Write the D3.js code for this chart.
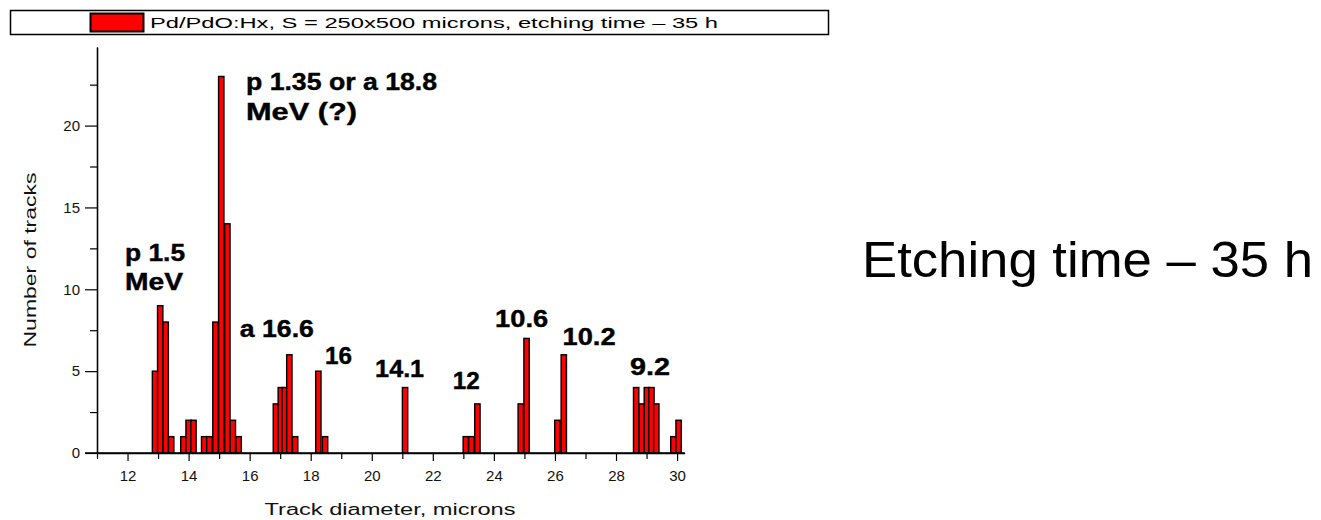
<!DOCTYPE html>
<html>
<head>
<meta charset="utf-8">
<script src="https://cdn.jsdelivr.net/npm/d3@7"></script>
<style>
  html, body { margin: 0; padding: 0; background: #fff; }
  svg { display: block; }
  text { font-family: "Liberation Sans", Arial, sans-serif; }
</style>
</head>
<body>
<svg id="chart" width="1321" height="520"></svg>
<script>
// ---- data ----
const diameters = [12.90, 13.07, 13.25, 13.43,
                   13.83, 14.00, 14.16,
                   14.51, 14.68, 14.88, 15.07, 15.27, 15.45, 15.64,
                   16.86, 17.02, 17.15, 17.30, 17.49,
                   18.25, 18.47,
                   21.09,
                   23.08, 23.26, 23.46,
                   24.88, 25.07,
                   26.08, 26.29,
                   28.66, 28.84, 29.01, 29.16, 29.32,
                   29.88, 30.05];
const counts = [5, 9, 8, 1,
                1, 2, 2,
                1, 1, 8, 23, 14, 2, 1,
                3, 4, 4, 6, 1,
                5, 1,
                4,
                1, 1, 3,
                3, 7,
                2, 6,
                4, 3, 4, 4, 3,
                1, 2];
const binWidth = 0.175;
const xTickValues = [12, 14, 16, 18, 20, 22, 24, 26, 28, 30];
const xMinorTicks = [11, 13, 15, 17, 19, 21, 23, 25, 27, 29];
const yTickValues = [0, 5, 10, 15, 20];
const yMinorTicks = [2.5, 7.5, 12.5, 17.5, 22.5];
const annText = ["p 1.5", "MeV", "p 1.35 or a 18.8", "MeV (?)", "a 16.6", "16", "14.1", "12", "10.6", "10.2", "9.2"];
const annX    = [11.92, 11.92, 15.88, 15.88, 15.68, 18.47, 20.11, 22.65, 24.04, 26.25, 28.46];
const annY    = [11.73, 9.96, 22.17, 20.34, 7.09, 5.44, 4.64, 3.91, 7.70, 6.60, 4.76];
const legendLabel = "Pd/PdO:Hx, S = 250x500 microns, etching time \u2013 35 h";
const xTitle = "Track diameter, microns";
const yTitle = "Number of tracks";
const sideNote = "Etching time \u2013 35 h";

// ---- style ----
const annWidth = {"p 1.5": 60, "MeV": 58, "p 1.35 or a 18.8": 191, "MeV (?)": 111, "a 16.6": 74,
                  "16": 27, "14.1": 49, "12": 27, "10.6": 53, "10.2": 53, "9.2": 40};

const svg = d3.select("#chart");
const x = d3.scaleLinear().domain([11, 30.25]).range([97, 97 + 19.25 * 30.53]);
const y = d3.scaleLinear().domain([0, 24.8]).range([453, 47]);

// legend
svg.append("rect").attr("x", 10.5).attr("y", 10.5).attr("width", 818).attr("height", 24)
  .attr("fill", "#fff").attr("stroke", "#000").attr("stroke-width", 1.5);
svg.append("rect").attr("x", 90.5).attr("y", 13.5).attr("width", 53).attr("height", 18)
  .attr("fill", "#ff0000").attr("stroke", "#000").attr("stroke-width", 2);
svg.append("text").attr("x", 150).attr("y", 27.5).attr("font-size", 14)
  .attr("textLength", 568).attr("lengthAdjust", "spacingAndGlyphs").text(legendLabel);

// bars
const data = diameters.map((d, i) => ({x: d, c: counts[i]}));
svg.append("g").selectAll("rect").data(data).join("rect")
  .attr("x", d => x(d.x - binWidth / 2))
  .attr("y", d => y(d.c))
  .attr("width", d => x(d.x + binWidth / 2) - x(d.x - binWidth / 2))
  .attr("height", d => y(0) - y(d.c))
  .attr("fill", "#ff0000").attr("stroke", "#000").attr("stroke-width", 1.4);

// x axis
const xAxis = svg.append("g").attr("transform", `translate(0,${y(0)})`);
xAxis.call(d3.axisBottom(x).tickValues(xTickValues).tickSize(8).tickSizeOuter(0).tickFormat(d3.format("d")));
xAxis.append("g").call(d3.axisBottom(x).tickValues(xMinorTicks).tickSize(6).tickSizeOuter(0).tickFormat(""));
xAxis.selectAll(".domain").attr("stroke", "#000").attr("stroke-width", 1.3);
xAxis.selectAll("line").attr("stroke", "#000").attr("stroke-width", 1.2);
xAxis.selectAll("text").attr("font-size", 15).attr("fill", "#111").attr("dy", "1.1em")
  .attr("font-family", "'Liberation Sans', Arial, sans-serif");
xAxis.select(".domain").attr("d", `M${x(11) - 12},0H${x.range()[1]}`);

// y axis
const yAxis = svg.append("g").attr("transform", `translate(${x(11)},0)`);
yAxis.call(d3.axisLeft(y).tickValues(yTickValues).tickSize(12).tickSizeOuter(0).tickPadding(5));
yAxis.append("g").call(d3.axisLeft(y).tickValues(yMinorTicks).tickSize(7).tickSizeOuter(0).tickFormat(""));
yAxis.selectAll(".domain").attr("stroke", "#000").attr("stroke-width", 1.3);
yAxis.selectAll("line").attr("stroke", "#000").attr("stroke-width", 1.2);
yAxis.selectAll("text").attr("font-size", 15).attr("fill", "#111")
  .attr("font-family", "'Liberation Sans', Arial, sans-serif");

// axis titles
svg.append("text").attr("x", 390).attr("y", 515).attr("text-anchor", "middle")
  .attr("font-size", 16).attr("fill", "#111")
  .attr("textLength", 251).attr("lengthAdjust", "spacingAndGlyphs").text(xTitle);
svg.append("text").attr("transform", "translate(36,260) rotate(-90)").attr("text-anchor", "middle")
  .attr("font-size", 16).attr("fill", "#111")
  .attr("textLength", 175).attr("lengthAdjust", "spacingAndGlyphs").text(yTitle);

// annotations
svg.append("g").selectAll("text").data(annText).join("text")
  .attr("x", (d, i) => x(annX[i]))
  .attr("y", (d, i) => y(annY[i]))
  .attr("font-size", 23).attr("font-weight", "bold").attr("fill", "#000")
  .attr("stroke", "#000").attr("stroke-width", 0.4)
  .attr("textLength", d => annWidth[d]).attr("lengthAdjust", "spacingAndGlyphs")
  .text(d => d);

// side note
svg.append("text").attr("x", 862).attr("y", 277).attr("font-size", 50).attr("fill", "#000")
  .attr("textLength", 451).attr("lengthAdjust", "spacingAndGlyphs").text(sideNote);
</script>
</body>
</html>
